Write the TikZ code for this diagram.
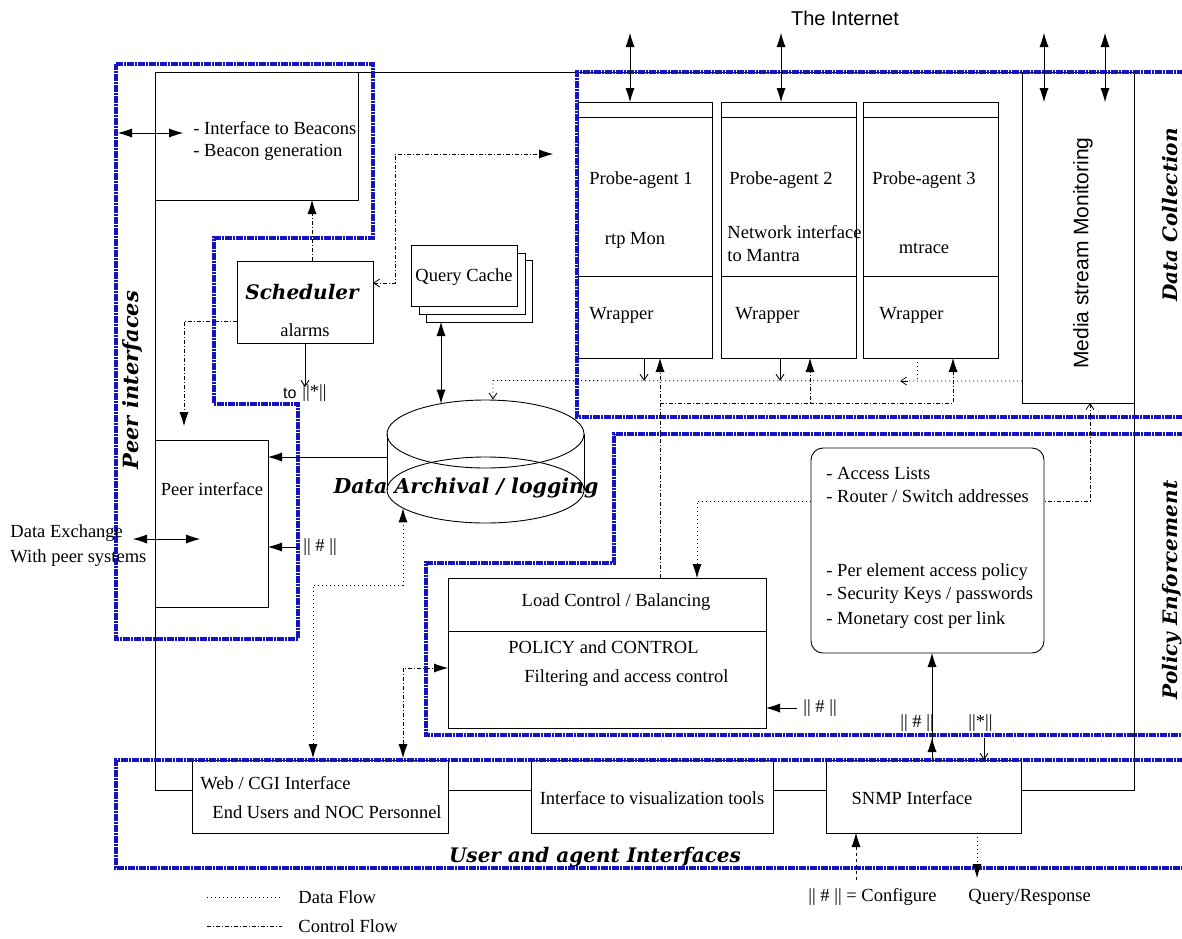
\documentclass[tikz,border=0pt]{standalone}
\usepackage{fontspec}
\setmainfont{Liberation Serif}
\newfontfamily\sansf{Liberation Sans}
\newfontfamily\headf{DejaVu Serif}
\usetikzlibrary{arrows.meta,calc}
\definecolor{frameblue}{RGB}{20,20,195}
\tikzset{
  box/.style={draw, line width=0.9pt, anchor=north west, inner sep=0pt, outer sep=0pt},
  bframe/.style={draw=frameblue, line width=3.8pt, dash pattern=on 7pt off 1pt on 2pt off 1pt},
  data/.style={line width=0.8pt, dash pattern=on 1pt off 3pt},
  ctrl/.style={line width=0.8pt, dash pattern=on 4pt off 2pt on 1pt off 2pt},
  lab/.style={font=\fontsize{18.5}{21}\selectfont, inner sep=0pt, anchor=west},
  clab/.style={font=\fontsize{18.5}{21}\selectfont, inner sep=0pt},
  head/.style={font=\headf\bfseries\itshape\fontsize{20}{23}\selectfont, inner sep=0pt},
  sans/.style={font=\sansf\fontsize{20}{23}\selectfont, inner sep=0pt},
  toend/.style={-{Latex[length=14pt,width=9pt,line width=0pt]}},
  tostart/.style={{Latex[length=14pt,width=9pt,line width=0pt]}-},
  both/.style={{Latex[length=14pt,width=9pt,line width=0pt]}-{Latex[length=14pt,width=9pt,line width=0pt]}},
  barb/.style={-{Straight Barb[length=6pt,width=8pt]}}
}
\begin{document}
\begin{tikzpicture}[x=1pt,y=-1pt, line width=0.9pt]
\useasboundingbox (0,0) rectangle (1182,938);
\clip (0,0) rectangle (1182,938);
\fill[white] (0,0) rectangle (1182,938);

% ---------- boxes ----------
\node[box, minimum width=203pt, minimum height=128pt] (beacon) at (155,72) {};
\node[box, minimum width=136pt, minimum height=82pt] (sched) at (237,261) {};
\node[box, fill=white, minimum width=106pt, minimum height=62pt] (qc3) at (426,260) {};
\node[box, fill=white, minimum width=106pt, minimum height=61pt] (qc2) at (419,253) {};
\node[box, fill=white, minimum width=106pt, minimum height=61pt] (qc1) at (411,245) {};
\node[box, minimum width=113pt, minimum height=167pt] (peer) at (155,440) {};
\node[box, minimum width=134pt, minimum height=256pt] (p1) at (578,102) {};
\node[box, minimum width=135pt, minimum height=256pt] (p2) at (721,102) {};
\node[box, minimum width=135pt, minimum height=256pt] (p3) at (863,102) {};
\node[box, minimum width=112pt, minimum height=331pt] (media) at (1022,72) {};
\node[box, minimum width=318pt, minimum height=150pt] (load) at (448,578) {};
\node[box, rounded corners=12pt, minimum width=233pt, minimum height=205pt] (access) at (811,448) {};
\node[box, minimum width=256pt, minimum height=73pt] (web) at (192,760) {};
\node[box, minimum width=242pt, minimum height=73pt] (viz) at (531,760) {};
\node[box, minimum width=195pt, minimum height=73pt] (snmp) at (826,760) {};

\foreach \p in {p1,p2,p3}{
  \draw ($(\p.north west)+(0,15)$) -- ($(\p.north east)+(0,15)$);
  \draw ($(\p.north west)+(0,174)$) -- ($(\p.north east)+(0,174)$);
}
\draw ($(load.north west)+(0,53)$) -- ($(load.north east)+(0,53)$);

% outer frame lines
\draw (beacon.north east) -- (media.north west);
\draw (beacon.north west) |- ($(web.north west)+(0,30)$);
\draw ($(web.north east)+(0,30)$) -- ($(viz.north west)+(0,30)$);
\draw ($(viz.north east)+(0,30)$) -- ($(snmp.north west)+(0,30)$);
\draw ($(snmp.north east)+(0,30)$) -| (media.south east);

% cylinder
\node[minimum width=197pt, minimum height=123pt, inner sep=0pt] (arch) at (485.5,461.5) {};
\draw (485.5,490) ellipse [x radius=98.5, y radius=33];
\draw (485.5,434) ellipse [x radius=98.5, y radius=34];
\draw (387,434) -- (387,490) (584,434) -- (584,490);

% ---------- blue frames ----------
\draw[bframe] (116,64) -- (373,64) -- (373,238) -- (214,238) -- (214,404) -- (298,404) -- (298,639) -- (116,639) -- cycle;
\draw[bframe] (1195,72) -- (577,72) -- (577,417) -- (1195,417);
\draw[bframe] (1195,434) -- (614,434) -- (614,563) -- (426,563) -- (426,735) -- (1195,735);
\draw[bframe] (1195,760) -- (116,760) -- (116,868) -- (1195,868);

% ---------- text ----------
\node[lab] (bt1) at (193,128) {- Interface to Beacons};
\node[lab] (bt2) at (193,152) {- Beacon generation};
\node[head] (scht) at (302,292) {Scheduler};
\node[clab] (alarm) at (305,330) {alarms};
\node[clab] (qct) at (464,277) {Query Cache};
\node[clab] (peert) at (212,489) {Peer interface};
\node[lab] (pa1) at (589,180) {Probe-agent 1};
\node[lab] (pa2) at (729,180) {Probe-agent 2};
\node[lab] (pa3) at (872,180) {Probe-agent 3};
\node[clab] (rtp) at (635,240) {rtp Mon};
\node[lab] (nw1) at (727,232) {Network interface};
\node[lab] (nw2) at (727,256) {to Mantra};
\node[clab] (mtr) at (924,248) {mtrace};
\node[lab] (w1) at (589,315) {Wrapper};
\node[lab] (w2) at (735,315) {Wrapper};
\node[lab] (w3) at (879,315) {Wrapper};
\node[sans, font=\sansf\fontsize{21}{24}\selectfont, rotate=90] (mst) at (1083,253) {Media stream Monitoring};
\node[sans] (inet) at (845,18) {The Internet};
\node[clab] (lct) at (616,602) {Load Control / Balancing};
\node[lab] (pct) at (508,647) {POLICY and CONTROL};
\node[lab] (fat) at (524,678) {Filtering and access control};
\node[lab] (al1) at (826,473) {- Access Lists};
\node[lab] (al2) at (826,496) {- Router / Switch addresses};
\node[lab] (al3) at (826,572) {- Per element access policy};
\node[lab] (al4) at (826,595) {- Security Keys / passwords};
\node[lab] (al5) at (826,620) {- Monetary cost per link};
\node[lab] (webt1) at (200,783) {Web / CGI Interface};
\node[lab] (webt2) at (212,812) {End Users and NOC Personnel};
\node[clab] (vizt) at (652,798) {Interface to visualization tools};
\node[clab] (snmpt) at (912,798) {SNMP Interface};
\node[lab] (dx1) at (10,533) {Data Exchange};
\node[lab] (dx2) at (10,558) {With peer systems};
\node[sans, anchor=east, font=\sansf\fontsize{16}{19}\selectfont] (tot) at (297,393) {to};
\node[lab] (star1) at (302,393) {||*||};
\node[lab] (hash1) at (303,547) {|| \# ||};
\node[lab] (hash2) at (803,708) {|| \# ||};
\node[lab] (hash3) at (900,723) {|| \# ||};
\node[lab] (star2) at (968,723) {||*||};
\node[lab] (conf) at (808,897) {|| \# || = Configure};
\node[lab] (qr) at (968,897) {Query/Response};
\node[lab] (dfl) at (298,897) {Data Flow};
\node[lab] (cfl) at (298,926) {Control Flow};
\node[head, font=\headf\bfseries\itshape\fontsize{21}{24}\selectfont] (pit) at (133,380) [rotate=90] {Peer interfaces};
\node[head] (dct) at (1170,215) [rotate=90] {Data Collection};
\node[head] (pet) at (1172,590) [rotate=90] {Policy Enforcement};
\node[head] (uat) at (595,857) {User and agent Interfaces};
\node[head, font=\headf\bfseries\itshape\fontsize{20.5}{24}\selectfont] (dat) at (466,488) {Data Archival / logging};

% ---------- connectors ----------
\coordinate (bL) at (118,133);
\draw[both] (bL) -- ++(65,0);
\coordinate (dxL) at (133,539);
\draw[both] (dxL) -- ++(67,0);

% scheduler -> beacon
\draw[ctrl,toend] ($(sched.north)+(7,0)$) -- ($(beacon.south)+(55.5,0)$);
% scheduler -> peer interface
\draw[ctrl,toend] ($(sched.west)+(0,19)$) -| ($(peer.north)+(-27.5,-14)$);
% scheduler -> to ||*||
\draw[barb] (sched.south) -- ($(sched.south)+(0,44)$);
% scheduler <-> data collection
\coordinate (dcin) at (553,154);
\draw[ctrl,{Straight Barb[length=6pt,width=8pt]}-{Latex[length=14pt,width=9pt,line width=0pt]}] ($(sched.east)+(0,-19)$) -| ++(22,-129) -- (dcin);
% query cache <-> archive
\draw[both] ($(qc3.south west)+(15,0)$) -- ($(arch.north)+(-44.5,4)$);
% archive -> peer
\draw[toend] ($(arch.west)+(0,-4.5)$) coordinate (c7) -- (peer.east |- c7);
% ||#|| -> peer
\draw[toend] ($(hash1.west)+(-6,0)$) -- (peer.east |- hash1.west);
% archive <-> web (data)
\draw[data,both] ($(web.north west)+(121,-2)$) -- ++(0,-173) -| ($(arch.south)+(-82.5,-15)$);
% web <-> policy (control)
\draw[ctrl,both] ($(web.north west)+(211,-2)$) |- ($(load.west)+(0,15)$);
% policy -> wrappers (control)
\draw[ctrl,toend] ($(load.north west)+(212,0)$) -- ($(p1.south west)+(82,0)$);
\draw[ctrl,toend] ($(p1.south west)+(82,45)$) -| ($(p2.south west)+(89,0)$);
\draw[ctrl,toend] ($(p2.south west)+(89,45)$) -| ($(p3.south west)+(90,0)$);
% data line from probes / media to archive
\draw[data,barb] ($(media.west)+(0,143.5)$) -- ($(arch.north)+(7.5,-19)$) -- ($(arch.north)+(7.5,0)$);
\draw[barb] ($(p1.south west)+(66,0)$) -- ++(0,23);
\draw[barb] ($(p2.south west)+(59,0)$) -- ++(0,23);
\draw[data] ($(p3.south west)+(54,0)$) -- ++(0,23);
\draw[line width=0.7pt,barb] ($(p3.south west)+(45,23)$) -- ++(-8,0);
% internet arrows
\draw[both] ($(p1.north west)+(52,-69)$) -- ($(p1.north west)+(52,0)$);
\draw[both] ($(p2.north west)+(60,-69)$) -- ($(p2.north west)+(60,0)$);
\draw[both] ($(media.north west)+(22,-39)$) -- ($(media.north west)+(22,30)$);
\draw[both] ($(media.north west)+(83,-39)$) -- ($(media.north west)+(83,30)$);
% media <-> access lists
\draw[ctrl,{Straight Barb[length=6pt,width=8pt]}-] ($(media.south west)+(68,0)$) |- ($(access.east)+(0,-49.5)$);
% access lists -> load control (data)
\draw[data,toend] ($(access.west)+(0,-49.5)$) -| ($(load.north west)+(249,0)$);
% snmp -> access lists
\draw[toend] ($(snmp.north west)+(106,0)$) -- ($(access.south west)+(121,0)$);
\draw[toend] ($(snmp.north west)+(106,0)$) -- ++(0,-22);
% ||*|| -> snmp
\draw[barb] ($(snmp.north west)+(158,-22)$) -- ($(snmp.north west)+(158,0)$);
% ||#|| -> load
\draw[toend] ($(hash2.west)+(-6,0)$) -- (load.east |- hash2.west);
% configure / query
\draw[dashed,toend] ($(snmp.south west)+(30,47)$) -- ($(snmp.south west)+(30,0)$);
\draw[data,toend] ($(snmp.south west)+(151,0)$) -- ++(0,45);
% legend
\coordinate (lg1) at (207,897);
\coordinate (lg2) at (207,926);
\draw[data] (lg1) -- ++(75,0);
\draw[ctrl] (lg2) -- ++(75,0);
\end{tikzpicture}
\end{document}
